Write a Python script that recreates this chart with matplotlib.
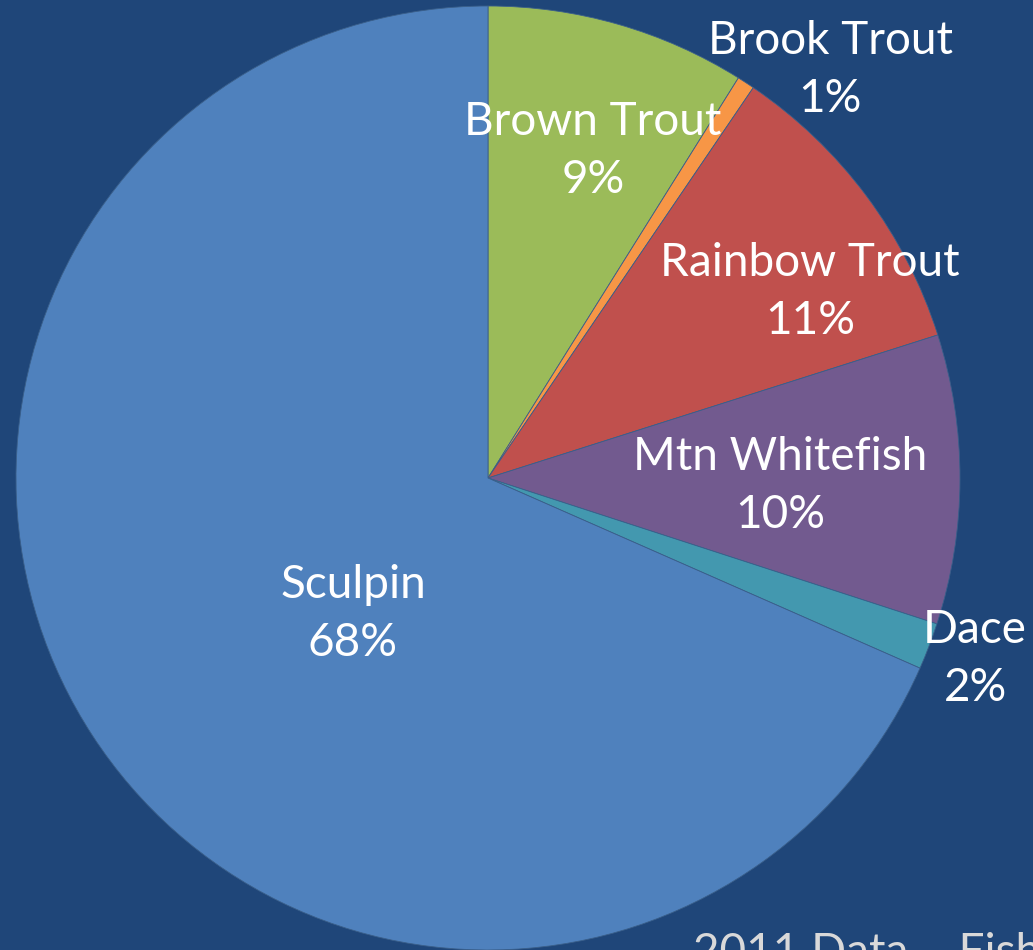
import matplotlib.pyplot as plt

plt.rcParams["font.family"] = ["Lato", "DejaVu Sans"]

species = ["Brown Trout", "Brook Trout", "Rainbow Trout", "Mtn Whitefish", "Dace", "Sculpin"]
share = [8.9, 0.6, 10.6, 9.9, 1.6, 68.4]
colors = ["#9BBB59", "#F79646", "#C0504D", "#725A8F", "#4398AF", "#4F81BD"]
# label centres in pixel space (x, y from top)
label_xy = [(593, 151), (830, 70), (810, 292), (780, 486), (975, 659), (353, 614)]

W, H = 1033, 950
bg = "#1F4679"
fig = plt.figure(figsize=(W / 100, H / 100), dpi=100, facecolor=bg)
ax = fig.add_axes([0, 0, 1, 1])
ax.set_facecolor(bg)

cx, cy, r = 488, H - 478, 472
ax.pie(share, colors=colors, startangle=90, counterclock=False,
       center=(cx, cy), radius=r, frame=True,
       wedgeprops=dict(edgecolor="#3A5F8A", linewidth=0.6))
ax.set_xlim(0, W)
ax.set_ylim(0, H)
ax.set_aspect("equal")
ax.axis("off")

for name, val, (x, y) in zip(species, share, label_xy):
    ax.text(x, H - y, f"{name}\n{round(val)}%", color="white", fontsize=33,
            ha="center", va="center", linespacing=1.47)

ax.text(693, H - 932, "2011 Data \u2013 Fish Sampling", color="#D9D9D9",
        fontsize=33, ha="left", va="top")

fig.savefig("out.png", dpi=100, facecolor=bg)
